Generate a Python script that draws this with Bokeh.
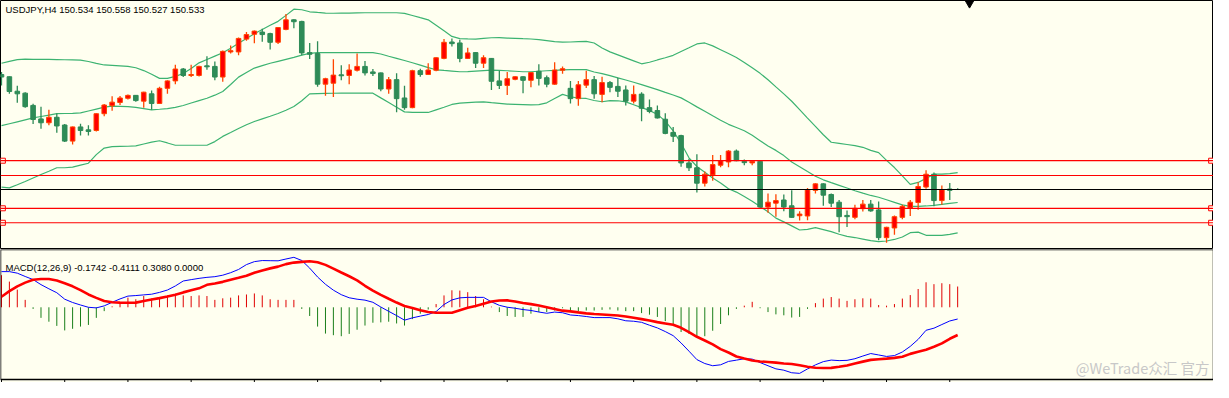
from bokeh.plotting import figure
from bokeh.layouts import column
from bokeh.models import ColumnDataSource, Range1d, Span, Label, BoxAnnotation
from bokeh.embed import file_html
from bokeh.resources import INLINE

# ---------------- data (USDJPY H4) ----------------
open_ = [152.916, 152.87, 152.57, 152.53, 152.276, 151.996, 151.916, 152.03, 151.87, 151.536,
         151.83, 151.77, 151.756, 152.104, 152.27, 152.336, 152.424, 152.484, 152.364, 152.516,
         152.316, 152.63, 152.784, 153.03, 152.896, 152.896, 153.096, 153.084, 152.864, 153.384,
         153.384, 153.65, 153.75, 153.796, 153.764, 153.584, 153.85, 154.05, 154.016, 153.37,
         153.35, 152.716, 152.736, 152.91, 152.896, 153.004, 153.084, 152.97, 152.95, 152.616,
         152.81, 152.43, 152.23, 152.996, 152.916, 153.004, 153.25, 153.59, 153.57, 153.25,
         153.37, 153.15, 153.25, 152.784, 152.69, 152.816, 152.87, 152.796, 152.984, 152.85,
         152.716, 153.004, 152.63, 152.416, 152.696, 152.81, 152.504, 152.75, 152.67, 152.596,
         152.364, 152.51, 152.23, 152.17, 151.99, 151.716, 151.65, 151.084, 150.984, 150.664,
         150.836, 151.036, 151.104, 151.33, 151.116, 151.084, 151.116, 150.17, 150.25, 150.316,
         150.196, 149.99, 149.984, 150.516, 150.65, 150.43, 150.27, 149.996, 149.956, 150.136,
         150.23, 150.11, 149.536, 149.736, 149.956, 150.15, 150.264, 150.584, 150.85, 150.304,
         150.544, 150.534]
high = [152.97, 152.876, 152.684, 152.55, 152.31, 152.25, 152.184, 152.11, 151.89, 151.84,
        151.896, 151.864, 152.116, 152.304, 152.464, 152.47, 152.504, 152.494, 152.56, 152.584,
        152.664, 152.796, 153.116, 153.05, 153.116, 153.096, 153.296, 153.184, 153.416, 153.516,
        153.684, 153.796, 153.83, 153.864, 153.784, 153.9, 154.17, 154.064, 154.03, 153.57,
        153.604, 152.85, 153.23, 153.11, 153.13, 153.35, 153.196, 153.03, 152.96, 152.864,
        152.944, 152.684, 153.016, 153.036, 153.15, 153.274, 153.65, 153.664, 153.636, 153.47,
        153.38, 153.316, 153.26, 152.996, 152.97, 152.88, 152.88, 152.97, 153.13, 152.896,
        153.17, 153.084, 152.784, 152.784, 152.996, 152.884, 152.87, 152.784, 152.85, 152.69,
        152.69, 152.55, 152.396, 152.276, 152.116, 151.83, 151.67, 151.17, 151.264, 150.904,
        151.25, 151.25, 151.35, 151.364, 151.156, 151.13, 151.13, 150.45, 150.436, 150.43,
        150.516, 150.084, 150.564, 150.664, 150.664, 150.45, 150.316, 150.096, 150.216, 150.316,
        150.316, 150.284, 149.76, 149.996, 150.216, 150.316, 150.684, 150.93, 150.884, 150.616,
        150.67, 150.558]
low = [152.69, 152.516, 152.33, 152.23, 151.89, 151.79, 151.864, 151.71, 151.516, 151.464,
       151.65, 151.65, 151.736, 152.05, 152.164, 152.284, 152.396, 152.35, 152.23, 152.184,
       152.31, 152.516, 152.716, 152.864, 152.864, 152.876, 153.016, 152.796, 152.764, 153.35,
       153.316, 153.616, 153.564, 153.596, 153.436, 153.55, 153.836, 153.876, 153.316, 153.236,
       152.664, 152.476, 152.45, 152.796, 152.716, 152.98, 152.896, 152.884, 152.57, 152.516,
       152.136, 152.184, 152.216, 152.87, 152.904, 152.984, 153.23, 153.496, 153.17, 153.24,
       153.05, 153.05, 152.596, 152.616, 152.49, 152.796, 152.53, 152.65, 152.69, 152.65,
       152.706, 152.93, 152.316, 152.27, 152.636, 152.416, 152.344, 152.55, 152.45, 152.276,
       152.316, 151.95, 152.116, 152.004, 151.676, 151.516, 151.004, 150.916, 150.47, 150.596,
       150.716, 150.996, 150.996, 151.12, 151.036, 151.036, 150.15, 150.05, 149.97, 150.084,
       149.946, 149.89, 149.896, 150.45, 150.196, 150.17, 149.65, 149.756, 149.916, 150.076,
       150.07, 149.484, 149.43, 149.596, 149.916, 149.984, 150.116, 150.55, 150.184, 150.216,
       150.316, 150.527]
close = [152.864, 152.564, 152.516, 152.25, 151.984, 151.916, 152.03, 151.85, 151.536, 151.83,
         151.756, 151.736, 152.104, 152.284, 152.344, 152.43, 152.484, 152.376, 152.55, 152.316,
         152.63, 152.784, 153.03, 152.896, 152.916, 153.084, 153.076, 152.864, 153.396, 153.41,
         153.664, 153.744, 153.816, 153.744, 153.584, 153.89, 154.05, 154.01, 153.364, 153.336,
         152.716, 152.83, 152.904, 152.89, 153.01, 153.084, 152.95, 152.936, 152.616, 152.81,
         152.416, 152.23, 152.996, 152.916, 153.01, 153.264, 153.584, 153.556, 153.25, 153.364,
         153.15, 153.264, 152.776, 152.69, 152.83, 152.87, 152.796, 152.956, 152.836, 152.716,
         153.01, 153.036, 152.416, 152.704, 152.81, 152.516, 152.75, 152.65, 152.57, 152.364,
         152.504, 152.216, 152.15, 152.016, 151.696, 151.636, 151.084, 150.984, 150.664, 150.85,
         151.05, 151.13, 151.33, 151.13, 151.09, 151.116, 150.17, 150.27, 150.304, 150.17,
         149.956, 150.024, 150.53, 150.65, 150.416, 150.25, 149.97, 149.97, 150.144, 150.23,
         150.09, 149.536, 149.75, 149.97, 150.184, 150.27, 150.596, 150.85, 150.304, 150.53,
         150.516, 150.533]

bb_upper = [153.15, 153.19, 153.224, 153.236, 153.232, 153.23, 153.228, 153.226, 153.222, 153.22,
            153.216, 153.186, 153.146, 153.114, 153.106, 153.096, 153.086, 153.056, 152.998, 152.922,
            152.836, 152.836, 152.878, 152.936, 153.042, 153.158, 153.228, 153.298, 153.366, 153.46,
            153.562, 153.664, 153.76, 153.848, 153.936, 154.018, 154.142, 154.27, 154.258, 154.216,
            154.202, 154.19, 154.186, 154.188, 154.19, 154.194, 154.196, 154.196, 154.196, 154.196,
            154.196, 154.184, 154.14, 154.094, 154.05, 153.936, 153.822, 153.706, 153.66, 153.654,
            153.65, 153.666, 153.678, 153.68, 153.672, 153.666, 153.658, 153.652, 153.638, 153.618,
            153.598, 153.586, 153.59, 153.598, 153.604, 153.57, 153.466, 153.386, 153.324, 153.262,
            153.2, 153.138, 153.17, 153.218, 153.264, 153.314, 153.392, 153.47, 153.55, 153.57,
            153.51, 153.43, 153.35, 153.27, 153.166, 153.054, 152.94, 152.808, 152.66, 152.514,
            152.362, 152.188, 152.014, 151.842, 151.668, 151.512, 151.49, 151.466, 151.442, 151.408,
            151.344, 151.298, 151.138, 150.988, 150.816, 150.638, 150.68, 150.764, 150.85, 150.85,
            150.862, 150.884]
bb_middle = [151.856, 151.896, 151.936, 151.976, 152.016, 152.046, 152.074, 152.104, 152.108, 152.112,
             152.12, 152.16, 152.2, 152.24, 152.262, 152.258, 152.252, 152.236, 152.21, 152.184,
             152.196, 152.21, 152.236, 152.274, 152.326, 152.376, 152.424, 152.488, 152.564, 152.71,
             152.862, 152.956, 153.05, 153.1, 153.15, 153.19, 153.23, 153.27, 153.318, 153.356,
             153.37, 153.37, 153.37, 153.37, 153.37, 153.37, 153.37, 153.37, 153.342, 153.294,
             153.252, 153.206, 153.16, 153.11, 153.06, 153.014, 153.0, 152.988, 152.974, 152.978,
             152.988, 152.998, 153.006, 153.004, 152.994, 152.984, 152.974, 152.974, 152.984, 152.994,
             153.002, 153.012, 153.016, 153.016, 153.016, 152.968, 152.936, 152.892, 152.846, 152.802,
             152.756, 152.708, 152.656, 152.602, 152.546, 152.492, 152.432, 152.34, 152.246, 152.154,
             152.06, 151.968, 151.884, 151.818, 151.75, 151.656, 151.546, 151.436, 151.344, 151.236,
             151.104, 151.006, 150.906, 150.808, 150.734, 150.676, 150.62, 150.564, 150.508, 150.458,
             150.41, 150.372, 150.32, 150.268, 150.216, 150.184, 150.184, 150.192, 150.206, 150.224,
             150.246, 150.264]
bb_lower = [150.582, 150.568, 150.632, 150.7, 150.772, 150.844, 150.912, 150.984, 150.984, 150.998,
            151.038, 151.078, 151.256, 151.392, 151.42, 151.426, 151.43, 151.436, 151.476, 151.516,
            151.544, 151.498, 151.45, 151.45, 151.45, 151.45, 151.45, 151.526, 151.634, 151.714,
            151.796, 151.876, 151.942, 151.998, 152.052, 152.108, 152.176, 152.254, 152.372, 152.516,
            152.52, 152.524, 152.528, 152.53, 152.53, 152.53, 152.53, 152.53, 152.432, 152.336,
            152.24, 152.142, 152.13, 152.13, 152.13, 152.184, 152.238, 152.296, 152.322, 152.332,
            152.342, 152.348, 152.332, 152.318, 152.304, 152.298, 152.292, 152.286, 152.292, 152.33,
            152.418, 152.504, 152.456, 152.426, 152.42, 152.378, 152.352, 152.374, 152.372, 152.35,
            152.29, 152.23, 152.172, 152.09, 151.95, 151.75, 151.49, 151.19, 151.01, 150.89,
            150.77, 150.67, 150.55, 150.48, 150.39, 150.29, 150.18, 150.07, 149.94, 149.862,
            149.78, 149.694, 149.708, 149.742, 149.702, 149.66, 149.606, 149.562, 149.538, 149.506,
            149.474, 149.452, 149.466, 149.498, 149.55, 149.638, 149.65, 149.584, 149.584, 149.584,
            149.604, 149.636]

macd_main = [0.529, 0.529, 0.506, 0.457, 0.411, 0.336, 0.274, 0.216, 0.12, 0.071,
             0.034, 0.0, -0.009, 0.021, 0.074, 0.124, 0.166, 0.174, 0.184, 0.194,
             0.221, 0.256, 0.316, 0.39, 0.41, 0.429, 0.444, 0.454, 0.476, 0.513,
             0.561, 0.633, 0.677, 0.693, 0.691, 0.689, 0.716, 0.741, 0.694, 0.581,
             0.449, 0.341, 0.254, 0.187, 0.141, 0.12, 0.106, 0.074, 0.004, -0.06,
             -0.123, -0.191, -0.157, -0.131, -0.107, -0.063, 0.041, 0.109, 0.14, 0.147,
             0.147, 0.147, 0.081, 0.029, 0.001, -0.014, -0.034, -0.047, -0.07, -0.089,
             -0.071, -0.081, -0.114, -0.123, -0.137, -0.153, -0.153, -0.153, -0.171, -0.2,
             -0.207, -0.223, -0.266, -0.306, -0.36, -0.421, -0.529, -0.651, -0.776, -0.834,
             -0.867, -0.853, -0.803, -0.784, -0.763, -0.769, -0.82, -0.867, -0.913, -0.933,
             -0.971, -0.98, -0.914, -0.854, -0.806, -0.783, -0.791, -0.787, -0.763, -0.723,
             -0.686, -0.707, -0.729, -0.716, -0.663, -0.58, -0.476, -0.341, -0.31, -0.256,
             -0.203, -0.1742]
macd_signal = [0.157, 0.239, 0.311, 0.366, 0.409, 0.42, 0.419, 0.396, 0.356, 0.311,
               0.254, 0.19, 0.14, 0.094, 0.074, 0.069, 0.067, 0.069, 0.094, 0.116,
               0.136, 0.159, 0.187, 0.221, 0.251, 0.281, 0.333, 0.354, 0.377, 0.409,
               0.437, 0.469, 0.513, 0.547, 0.577, 0.603, 0.64, 0.663, 0.674, 0.683,
               0.667, 0.629, 0.574, 0.516, 0.46, 0.4, 0.319, 0.247, 0.183, 0.126,
               0.07, 0.02, -0.009, -0.043, -0.071, -0.081, -0.081, -0.081, -0.043, -0.007,
               0.02, 0.053, 0.086, 0.1, 0.103, 0.087, 0.064, 0.047, 0.026, 0.001,
               -0.024, -0.05, -0.061, -0.076, -0.09, -0.099, -0.106, -0.114, -0.123, -0.137,
               -0.156, -0.176, -0.196, -0.22, -0.24, -0.26, -0.304, -0.369, -0.437, -0.493,
               -0.551, -0.62, -0.671, -0.73, -0.761, -0.789, -0.803, -0.811, -0.821, -0.833,
               -0.841, -0.861, -0.883, -0.897, -0.9, -0.899, -0.883, -0.863, -0.834, -0.806,
               -0.78, -0.77, -0.761, -0.75, -0.734, -0.691, -0.659, -0.63, -0.586, -0.536,
               -0.467, -0.4111]
macd_hist = [0.476, 0.381, 0.262, 0.11, -0.024, -0.157, -0.214, -0.276, -0.343, -0.319,
             -0.286, -0.262, -0.157, -0.057, 0.014, 0.071, 0.143, 0.119, 0.167, 0.129,
             0.143, 0.176, 0.2, 0.176, 0.167, 0.176, 0.167, 0.11, 0.133, 0.143,
             0.176, 0.19, 0.205, 0.176, 0.119, 0.11, 0.11, 0.11, -0.024, -0.129,
             -0.286, -0.39, -0.414, -0.429, -0.395, -0.333, -0.271, -0.229, -0.224, -0.214,
             -0.24, -0.271, -0.176, -0.095, -0.033, 0.048, 0.176, 0.252, 0.248, 0.224,
             0.167, 0.119, 0.01, -0.071, -0.129, -0.143, -0.143, -0.095, -0.071, -0.071,
             -0.048, -0.014, -0.057, -0.057, -0.048, -0.048, -0.038, -0.033, -0.048, -0.057,
             -0.057, -0.086, -0.11, -0.143, -0.205, -0.248, -0.367, -0.395, -0.452, -0.429,
             -0.348, -0.248, -0.119, -0.024, 0.024, 0.081, -0.014, -0.071, -0.105, -0.119,
             -0.152, -0.143, -0.024, 0.062, 0.129, 0.152, 0.129, 0.095, 0.119, 0.133,
             0.129, 0.033, 0.024, 0.048, 0.129, 0.181, 0.271, 0.371, 0.343, 0.357,
             0.343, 0.308]

red_levels = [151.13, 150.824, 150.144, 149.844]
marked_levels = [151.13, 150.144, 149.844]
symbol = "USDJPY,H4"
watermark = "@WeTrade众汇 官方"

# ---------------- layout constants ----------------
W, H1, H2 = 1213, 249, 133
BG = "#FFFFF0"
BULL_FILL, BULL_LINE = "#FF0000", "#FF4500"
BEAR_FILL, BEAR_LINE = "#2E8B57", "#2E8B57"
BAND = "#3CB371"
FONT = "Liberation Sans"

n = len(close)
xs = list(range(n))
xr = Range1d(-0.125, 153.375)

bull = [c > o for o, c in zip(open_, close)]
src = ColumnDataSource(dict(
    x=xs, open=open_, high=high, low=low, close=close,
    top=[max(o, c) for o, c in zip(open_, close)],
    bottom=[min(o, c) for o, c in zip(open_, close)],
    fill=[BULL_FILL if b else BEAR_FILL for b in bull],
    line=[BULL_LINE if b else BEAR_LINE for b in bull],
    up=bb_upper, mid=bb_middle, lo=bb_lower,
    macd=macd_main, sig=macd_signal, hist=macd_hist,
    hcol=["#E00000" if h > 0 else "#1A7F1A" for h in macd_hist],
    zero=[0.0] * n,
))

# ---------------- main price panel ----------------
p = figure(width=W, height=H1, x_range=xr, y_range=Range1d(149.29, 154.45),
           output_backend="svg", toolbar_location=None, min_border=0,
           x_axis_location=None, y_axis_location=None,
           background_fill_color=BG, border_fill_color=BG,
           outline_line_color="black", outline_line_width=1)
p.grid.visible = False

for lvl in red_levels:
    p.add_layout(Span(location=lvl, dimension="width", line_color="#FF0000", line_width=1.2))
p.add_layout(Span(location=close[-1], dimension="width", line_color="black", line_width=1.2))

p.line("x", "up", source=src, line_color=BAND, line_width=1.2)
p.line("x", "mid", source=src, line_color=BAND, line_width=1.2)
p.line("x", "lo", source=src, line_color=BAND, line_width=1.2)

p.segment(x0="x", y0="high", x1="x", y1="low", source=src, line_color="line", line_width=1.3)
p.vbar(x="x", width=0.58, top="top", bottom="bottom", source=src,
       fill_color="fill", line_color="line", line_width=1)

ends_x = [xr.start + 0.3] * len(marked_levels) + [xr.end - 0.3] * len(marked_levels)
p.scatter(ends_x, marked_levels * 2, marker="square", size=5,
          fill_color=BG, line_color="#FF0000", line_width=1)
p.scatter([n + 0.5], [p.y_range.end - 0.05], marker="inverted_triangle", size=9,
          fill_color="black", line_color="black")

p.add_layout(Label(x=5, y=H1 - 3, x_units="screen", y_units="screen",
                   text=f"{symbol}  {open_[-1]:.3f} {high[-1]:.3f} {low[-1]:.3f} {close[-1]:.3f}",
                   text_font=FONT, text_font_size="9.5px", text_color="black",
                   text_baseline="top"))

# ---------------- MACD panel ----------------
MACD_TOP, MACD_BOTTOM = 0.857, -1.071
TICK_SPACE = 0.0445
p2 = figure(width=W, height=H2, x_range=xr, y_range=Range1d(MACD_BOTTOM - TICK_SPACE, MACD_TOP),
            output_backend="svg", toolbar_location=None, min_border=0,
            x_axis_location=None, y_axis_location=None,
            background_fill_color=BG, border_fill_color=BG,
            outline_line_color=None)
p2.grid.visible = False
p2.add_layout(BoxAnnotation(bottom=MACD_BOTTOM, fill_alpha=0, line_color="black",
                            line_width=1.5, line_alpha=1))

ticks = list(range(0, n, 8))
p2.segment(x0=ticks, y0=[MACD_BOTTOM] * len(ticks), x1=ticks,
           y1=[MACD_BOTTOM - TICK_SPACE] * len(ticks), line_color="black", line_width=1)

p2.segment(x0="x", y0="zero", x1="x", y1="hist", source=src, line_color="hcol", line_width=1)
p2.line("x", "macd", source=src, line_color="#0000FF", line_width=1)
p2.line("x", "sig", source=src, line_color="#FF0000", line_width=2.6)

p2.add_layout(Label(x=5, y=H2 - 12, x_units="screen", y_units="screen",
                    text=f"MACD(12,26,9) {macd_main[-1]:.4f} {macd_signal[-1]:.4f} {macd_hist[-1]:.4f} 0.0000",
                    text_font=FONT, text_font_size="9.5px", text_color="black",
                    text_baseline="top"))
p2.add_layout(Label(x=W - 4, y=15, x_units="screen", y_units="screen",
                    text=watermark, text_font="Noto Sans CJK SC", text_font_size="14.5px",
                    text_color="#C8C8C8", text_align="right", text_baseline="middle"))

layout = column(p, p2, spacing=0)
open("out.html", "w").write(file_html(layout, INLINE))
